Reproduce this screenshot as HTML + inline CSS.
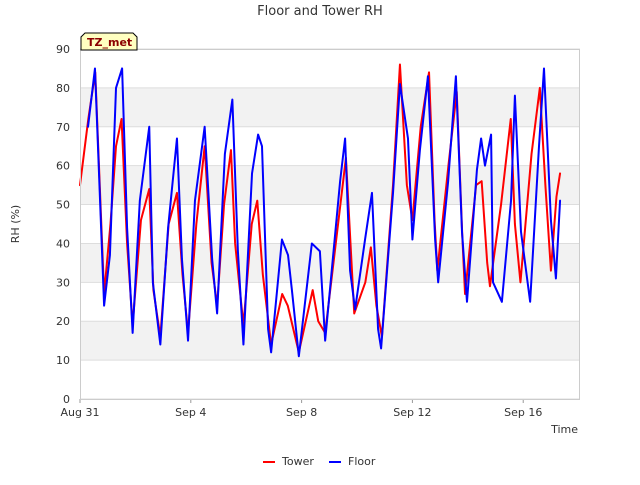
<!DOCTYPE html>
<html><head><meta charset="utf-8"><style>
body{margin:0;background:#fff;font-family:"Liberation Sans","DejaVu Sans",sans-serif}
svg text{font-family:"DejaVu Sans","Liberation Sans",sans-serif}
</style></head><body>
<svg id="c" width="640" height="480" xmlns="http://www.w3.org/2000/svg">
<text x="320" y="15" text-anchor="middle" font-size="13" fill="#333">Floor and Tower RH</text>
<text x="19" y="224" text-anchor="middle" font-size="11" fill="#333" transform="rotate(-90 19 224)">RH (%)</text>
<text x="578" y="433" text-anchor="end" font-size="11" fill="#333">Time</text>
<g id="bands"></g><g id="grid"></g><g id="ticks"></g><g id="series"></g>
<rect x="80.5" y="49.5" width="499" height="350" fill="none" stroke="#ccc"/>
<g>
<path d="M81 50 V37 L85 33 H133 L137 37 V50 Z" fill="#ffffc0" stroke="#000"/>
<text x="87" y="46" font-size="11" font-weight="bold" fill="#8b0000">TZ_met</text></g>
<g><line x1="263" y1="462" x2="275" y2="462" stroke="#f00" stroke-width="2"/><text x="282" y="465" font-size="11" fill="#333">Tower</text></g>
<g><line x1="329" y1="462" x2="341" y2="462" stroke="#00f" stroke-width="2"/><text x="348" y="465" font-size="11" fill="#333">Floor</text></g>
</svg>
<script>
const yTicks=[0,10,20,30,40,50,60,70,80,90];
const xTickDays=[0,4,8,12,16];
const xTickLabels=["Aug 31","Sep 4","Sep 8","Sep 12","Sep 16"];
const floorDays=[0.29,0.54,0.87,1.08,1.3,1.52,1.7,1.9,2.16,2.5,2.63,2.9,3.18,3.5,3.68,3.9,4.15,4.5,4.77,4.95,5.23,5.5,5.7,5.9,6.21,6.43,6.57,6.79,6.9,7.29,7.51,7.65,7.9,8.37,8.66,8.85,9.39,9.57,9.75,9.93,10.29,10.54,10.76,10.87,11.3,11.55,11.84,12.0,12.27,12.56,12.82,12.93,13.29,13.57,13.79,13.97,14.33,14.48,14.62,14.84,14.91,15.23,15.56,15.7,15.92,16.25,16.57,16.75,17.0,17.18,17.33];
const floorVals=[70,85,24,37,80,85,44,17,51,70,30,14,44,67,36,15,51,70,36,22,63,77,38,14,58,68,65,18,12,41,37,28,11,40,38,15,56,67,33,23,41,53,18,13,53,81,67,41,64,83,41,30,56,83,43,25,59,67,60,68,30,25,51,78,43,25,65,85,46,31,51,71];
const towerDays=[0,0.3,0.55,0.87,1.1,1.3,1.5,1.7,1.9,2.2,2.5,2.65,2.9,3.2,3.5,3.7,3.9,4.2,4.5,4.75,4.95,5.2,5.45,5.6,5.9,6.2,6.4,6.6,6.9,7.3,7.5,7.9,8.4,8.6,8.85,9.4,9.6,9.9,10.3,10.5,10.7,10.9,11.3,11.55,11.8,12.0,12.3,12.6,12.8,12.9,13.3,13.6,13.8,13.9,14.3,14.5,14.7,14.8,15.2,15.55,15.7,15.9,16.3,16.6,16.8,17.0,17.2,17.33];
const towerVals=[55,72,84,27,45,65,72,40,19,46,54,28,16,45,53,32,17,45,65,35,24,50,64,40,19,45,51,32,14,27,24,12,28,20,17,50,62,22,30,39,24,16,55,86,55,46,70,84,46,33,60,79,42,27,55,56,35,29,50,72,45,30,63,80,55,33,52,58];
const X0=80,X1=580,Y0=399,Y1=49,DMAX=18.05;
const xs=d=>X0+d*(X1-X0)/DMAX, ys=v=>Y0-v*(Y0-Y1)/90;
const NS="http://www.w3.org/2000/svg";
function mk(p,t,a){const e=document.createElementNS(NS,t);for(const k in a)e.setAttribute(k,a[k]);document.getElementById(p).appendChild(e);return e;}
for(let i=1;i<yTicks.length-1;i+=2){
 const r=mk('bands','rect',{x:X0,y:ys(yTicks[i+1]),width:X1-X0,height:ys(yTicks[i])-ys(yTicks[i+1]),fill:'#f2f2f2'});
 
 
}
yTicks.forEach(v=>{
 const l=mk('grid','line',{x1:X0,x2:X1,y1:ys(v),y2:ys(v),stroke:'#ddd'});
 
 
 const t=mk('ticks','text',{x:X0-10,y:ys(v)+4,'text-anchor':'end','font-size':11,fill:'#333'});
 t.textContent=v;
 
 
});
xTickDays.forEach((d,i)=>{
 const l=mk('ticks','line',{x1:xs(d),x2:xs(d),y1:Y0,y2:Y0+4,stroke:'#999'});
 
 
 const t=mk('ticks','text',{x:xs(d),y:Y0+17,'text-anchor':'middle','font-size':11,fill:'#333'});
 t.textContent=xTickLabels[i];
 
 
});
function line(ds,vs,col,name){
 const p=mk('series','polyline',{points:ds.map((d,i)=>xs(d)+','+ys(vs[i])).join(' '),fill:'none',stroke:col,'stroke-width':2,'stroke-linejoin':'round','stroke-linecap':'round'});
 
 
}
line(towerDays,towerVals,'#f00','tower-line');
line(floorDays,floorVals,'#00f','floor-line');
</script>
</body></html>
